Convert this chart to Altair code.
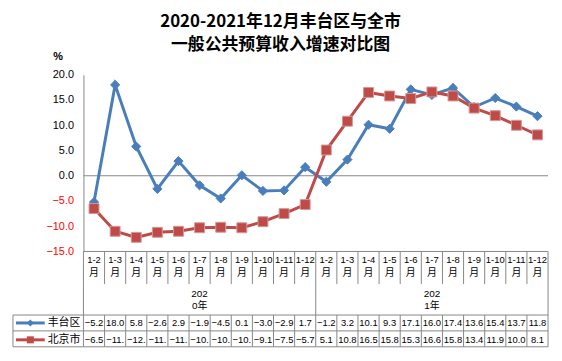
import altair as alt
import pandas as pd

# ---------------- data ----------------
months = ["1-2", "1-3", "1-4", "1-5", "1-6", "1-7", "1-8", "1-9", "1-10", "1-11", "1-12"]
year_top = ["202", "202"]
year_bottom = ["0年", "1年"]
series_names = ["丰台区", "北京市"]
fengtai = [-5.2, 18.0, 5.8, -2.6, 2.9, -1.9, -4.5, 0.1, -3.0, -2.9, 1.7,
           -1.2, 3.2, 10.1, 9.3, 17.1, 16.0, 17.4, 13.6, 15.4, 13.7, 11.8]
beijing = [-6.5, -11.0, -12.2, -11.2, -11.0, -10.3, -10.2, -10.3, -9.1, -7.5, -5.7,
           5.1, 10.8, 16.5, 15.8, 15.3, 16.6, 15.8, 13.4, 11.9, 10.0, 8.1]
y_ticks = [-15, -10, -5, 0, 5, 10, 15, 20]
title_lines = ["2020-2021年12月丰台区与全市", "一般公共预算收入增速对比图"]

# ---------------- styling ----------------
BLUE = "#4A7EBB"
RED = "#BE4B48"
GRAY = "#878787"
FONT = "Liberation Sans, Noto Sans CJK SC"
CJK = "Noto Sans CJK SC"
PLOT_W = 468
TOP_H = 178
TBL_H = 96
N = 22
COLW = PLOT_W / N
LEG_LEFT = -71 / COLW  # legend column left border (in column units)


def px(p):
    """pixel offset from plot left -> column units"""
    return p / COLW


rows = []
for s, vals in zip(series_names, [fengtai, beijing]):
    for i, v in enumerate(vals):
        rows.append({"series": s, "pos": i + 0.5, "value": v,
                     "ty": 72 if s == series_names[0] else 89})
df = pd.DataFrame(rows)

# ---------------- top chart ----------------
y_axis = alt.Axis(values=y_ticks, format=".1f", grid=False, ticks=False,
                  labelOverlap=False, labelFlush=False,
                  domainColor=GRAY, labelFont=FONT, labelFontSize=11,
                  labelColor=alt.ExprRef(expr="datum.value < 0 ? '#FF0000' : '#000000'"),
                  labelPadding=10, title="%", titleAngle=0, titleX=-26, titleY=-18,
                  titleAlign="center", titleBaseline="middle", titleFontSize=11,
                  titleFont=FONT, titleFontWeight="bold", titleColor="#000000")
xs = alt.X("pos:Q", scale=alt.Scale(domain=[0, N], nice=False, zero=False), axis=None)
ys = alt.Y("value:Q", scale=alt.Scale(domain=[-15, 20], nice=False, zero=False), axis=y_axis)

base = alt.Chart(df)
zero = alt.Chart(pd.DataFrame({"value": [0]})).mark_rule(color=GRAY, strokeWidth=1).encode(y=ys)
layers = [zero]
for s, col, shape, size, stroke in [(series_names[0], BLUE, "diamond", 85, BLUE),
                                    (series_names[1], RED, "square", 100, "#D29896")]:
    b = base.transform_filter(alt.datum.series == s)
    layers.append(b.mark_line(color=col, strokeWidth=3).encode(x=xs, y=ys))
    layers.append(b.mark_point(shape=shape, size=size, filled=True, fill=col, stroke=stroke,
                               strokeWidth=1, opacity=1)
                  .encode(x=xs, y=ys))
top = alt.layer(*layers).properties(width=PLOT_W, height=TOP_H)

# ---------------- table chart ----------------
tx = alt.Scale(domain=[0, N], nice=False, zero=False)
ty = alt.Scale(domain=[0, TBL_H], nice=False, zero=False, reverse=True)

grid = []
for i in range(N + 1):
    grid.append({"x1": i, "x2": i, "y1": 0, "y2": 32.7})
    grid.append({"x1": i, "x2": i, "y1": 64, "y2": TBL_H})
for i in (0, 11, 22):
    grid.append({"x1": i, "x2": i, "y1": 32.7, "y2": 64})
grid.append({"x1": LEG_LEFT, "x2": LEG_LEFT, "y1": 64, "y2": TBL_H})
grid.append({"x1": 0, "x2": N, "y1": 0, "y2": 0})
for yy in (64, 80, TBL_H):
    grid.append({"x1": LEG_LEFT, "x2": N, "y1": yy, "y2": yy})
gdf = pd.DataFrame(grid)

grid_layer = alt.Chart(gdf).mark_rule(color=GRAY, strokeWidth=1).encode(
    x=alt.X("x1:Q", scale=tx, axis=None), x2="x2:Q",
    y=alt.Y("y1:Q", scale=ty, axis=None), y2="y2:Q")

mdf = pd.DataFrame({"pos": [i + 0.5 for i in range(N)],
                    "m": months * 2,
                    "y_m": [8.8] * N, "y_yue": [21.8] * N, "yue": ["月"] * N})
month_layer = alt.Chart(mdf).mark_text(font=FONT, fontSize=9.5, color="#000000",
                                       baseline="middle").encode(
    x=alt.X("pos:Q", scale=tx, axis=None), y=alt.Y("y_m:Q", scale=ty, axis=None), text="m:N")
yue_layer = alt.Chart(mdf).mark_text(font=CJK, fontSize=10, color="#000000",
                                     baseline="middle").encode(
    x=alt.X("pos:Q", scale=tx, axis=None), y=alt.Y("y_yue:Q", scale=ty, axis=None), text="yue:N")

ydf = pd.DataFrame({"pos": [5.5, 16.5], "a": year_top, "b": year_bottom,
                    "ya": [43.3, 43.3], "yb": [54.8, 54.8]})
year_a = alt.Chart(ydf).mark_text(font=FONT, fontSize=10, color="#000000", baseline="middle").encode(
    x=alt.X("pos:Q", scale=tx, axis=None), y=alt.Y("ya:Q", scale=ty, axis=None), text="a:N")
year_b = alt.Chart(ydf).mark_text(font=FONT, fontSize=10, color="#000000", baseline="middle").encode(
    x=alt.X("pos:Q", scale=tx, axis=None), y=alt.Y("yb:Q", scale=ty, axis=None), text="b:N")

val_layer = alt.Chart(df).transform_calculate(
    label="substring(format(datum.value, '.1f'), 0, 4)"
).mark_text(font=FONT, fontSize=9.5, color="#000000", baseline="middle").encode(
    x=alt.X("pos:Q", scale=tx, axis=None), y=alt.Y("ty:Q", scale=ty, axis=None), text="label:N")

ldf = pd.DataFrame({"series": series_names,
                    "lx1": [px(15 - 83)] * 2, "lx2": [px(44 - 83)] * 2,
                    "lxm": [px(29.5 - 83)] * 2, "ltx": [px(47 - 83)] * 2,
                    "ly": [72, 89]})
lcolor = alt.Color("series:N", scale=alt.Scale(domain=series_names, range=[BLUE, RED]), legend=None)
leg_line = alt.Chart(ldf).mark_rule(strokeWidth=3).encode(
    x=alt.X("lx1:Q", scale=tx, axis=None), x2="lx2:Q",
    y=alt.Y("ly:Q", scale=ty, axis=None), color=lcolor)
leg_pt = alt.Chart(ldf).mark_point(filled=True, opacity=1).encode(
    x=alt.X("lxm:Q", scale=tx, axis=None), y=alt.Y("ly:Q", scale=ty, axis=None), color=lcolor,
    shape=alt.Shape("series:N", scale=alt.Scale(domain=series_names, range=["diamond", "square"]),
                    legend=None),
    size=alt.value(50))
leg_txt = alt.Chart(ldf).mark_text(font=CJK, fontSize=11, color="#000000", align="left",
                                   baseline="middle").encode(
    x=alt.X("ltx:Q", scale=tx, axis=None), y=alt.Y("ly:Q", scale=ty, axis=None), text="series:N")

table = alt.layer(grid_layer, month_layer, yue_layer, year_a, year_b, val_layer,
                  leg_line, leg_pt, leg_txt).properties(width=PLOT_W, height=TBL_H)

chart = alt.vconcat(top, table, spacing=0, bounds="flush").properties(
    title=alt.TitleParams(text=title_lines, font=CJK, fontSize=17, fontWeight="bold",
                          color="#000000", anchor="middle", lineHeight=23, offset=-3),
    padding={"left": 4, "top": 4, "right": 5, "bottom": 5},
).configure_view(stroke=None)

chart.save("out.html", embed_options={"renderer": "svg", "actions": False})
